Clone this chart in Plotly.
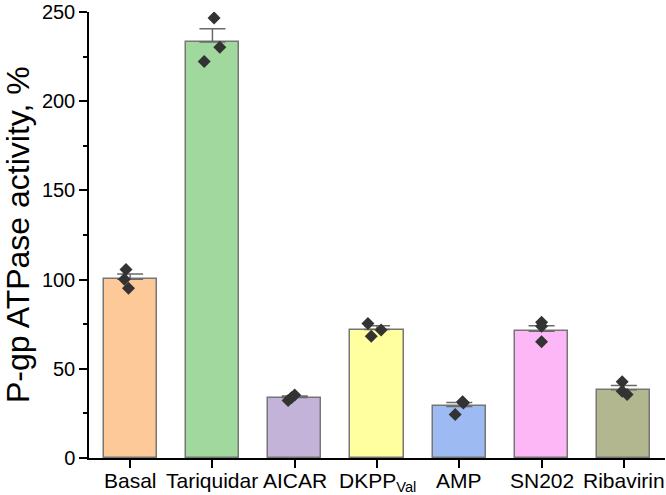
import plotly.graph_objects as go

categories = ["Basal", "Tariquidar", "AICAR", "DKPP<sub>Val</sub>", "AMP", "SN202", "Ribavirin"]
means = [100.2, 233.2, 33.9, 72.0, 28.9, 71.1, 38.3]
err_plus = [3.0, 7.4, 0.9, 2.1, 2.2, 3.0, 2.4]
replicates = [
    [105.7, 100.2, 95.2],
    [246.7, 230.2, 222.2],
    [32.3, 33.8, 35.3],
    [75.4, 71.7, 68.3],
    [31.6, 30.8, 24.4],
    [76.1, 73.9, 65.2],
    [42.8, 37.4, 35.6],
]
jitter = [
    [-0.05, -0.07, -0.02],
    [0.02, 0.09, -0.10],
    [-0.08, -0.04, 0.00],
    [-0.11, 0.05, -0.07],
    [0.04, 0.05, -0.05],
    [0.0, 0.0, 0.0],
    [-0.02, -0.02, 0.04],
]
colors = ["#FDC998", "#A0D89E", "#C3B3D8", "#FFFFA0", "#9DBBF2", "#FDB7F7", "#B2B78F"]
yticks = [0, 50, 100, 150, 200, 250]
y_title = "P-gp ATPase activity, %"

idx = list(range(len(categories)))

fig = go.Figure()
fig.add_trace(go.Bar(
    x=idx, y=means, width=0.645,
    marker=dict(color=colors, line=dict(color="#767676", width=1.5)),
    error_y=dict(type="data", symmetric=False, array=err_plus,
                 arrayminus=[0] * len(means), color="#6a6a6a",
                 thickness=1.5, width=13),
    showlegend=False,
))

px, py = [], []
for i, (vals, jit) in enumerate(zip(replicates, jitter)):
    for v, j in zip(vals, jit):
        px.append(i + j)
        py.append(v)
fig.add_trace(go.Scatter(
    x=px, y=py, mode="markers",
    marker=dict(symbol="diamond", size=10, color="#333333"),
    showlegend=False,
))

# category labels as text placed just under the tick marks
for i, lab in zip(idx, categories):
    fig.add_annotation(
        x=i, xref="x", y=0, yref="paper", text=lab, showarrow=False,
        yanchor="top", yshift=-9, font=dict(size=21, color="black"),
    )

# y-axis title
fig.add_annotation(
    x=0, xref="paper", y=0.5, yref="paper", text=y_title, showarrow=False,
    textangle=-90, xanchor="center", yanchor="middle", xshift=-71,
    font=dict(size=32, color="black"),
)

fig.update_layout(
    width=666, height=495,
    margin=dict(l=89, r=1, t=8, b=37),
    plot_bgcolor="white", paper_bgcolor="white",
    font=dict(family="Liberation Sans, Arial, sans-serif", size=20, color="black"),
    bargap=0,
)
fig.update_xaxes(
    range=[-0.5, 6.5], tickmode="array", tickvals=idx, showticklabels=False,
    showline=True, linecolor="black", linewidth=1.5,
    ticks="outside", ticklen=8, tickwidth=1.5, tickcolor="black",
    showgrid=False, zeroline=False,
)
fig.update_yaxes(
    range=[0, 250], tickmode="array", tickvals=yticks,
    showline=True, linecolor="black", linewidth=1.5,
    ticks="outside", ticklen=8, tickwidth=1.5, tickcolor="black",
    minor=dict(dtick=25, ticks="outside", ticklen=4, tickwidth=1.5, tickcolor="black", showgrid=False),
    showgrid=False, zeroline=False,
    tickfont=dict(size=20), ticklabeloverflow="allow",
)

fig.write_html("out.html", config={"displayModeBar": False},
               post_script="document.body.style.margin='0px';")
